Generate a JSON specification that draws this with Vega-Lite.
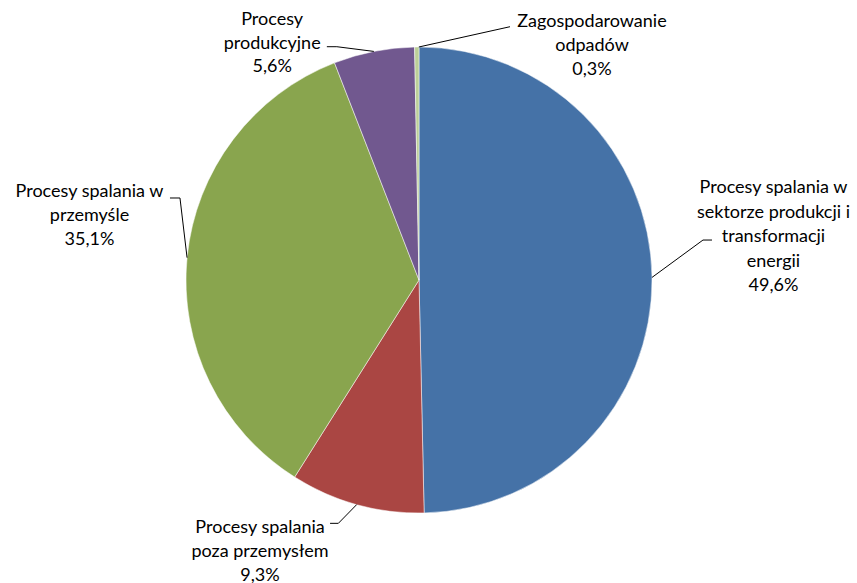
{
  "$schema": "https://vega.github.io/schema/vega-lite/v6.json",
  "width": 838,
  "height": 560,
  "autosize": "none",
  "padding": {"left": 0, "top": 0, "right": 19, "bottom": 23},
  "background": "#ffffff",
  "config": {"view": {"stroke": null}},
  "data": {
    "values": [
      {"kategoria": "Procesy spalania w sektorze produkcji i transformacji energii", "udzial": 49.6, "etykieta": ["Procesy spalania w", "sektorze produkcji i", "transformacji", "energii", "49,6%"]},
      {"kategoria": "Procesy spalania poza przemysłem", "udzial": 9.3, "etykieta": ["Procesy spalania", "poza przemysłem", "9,3%"]},
      {"kategoria": "Procesy spalania w przemyśle", "udzial": 35.1, "etykieta": ["Procesy spalania w", "przemyśle", "35,1%"]},
      {"kategoria": "Procesy produkcyjne", "udzial": 5.6, "etykieta": ["Procesy", "produkcyjne", "5,6%"]},
      {"kategoria": "Zagospodarowanie odpadów", "udzial": 0.3, "etykieta": ["Zagospodarowanie", "odpadów", "0,3%"]}
    ]
  },
  "transform": [
    {"window": [{"op": "row_number", "as": "nr"}, {"op": "sum", "field": "udzial", "as": "narast"}], "frame": [null, 0]},
    {"joinaggregate": [{"op": "sum", "field": "udzial", "as": "suma"}]},
    {"calculate": "2 * PI * (datum.narast - datum.udzial / 2) / datum.suma", "as": "kat"},
    {"calculate": "233 * sin(datum.kat)", "as": "ex"},
    {"calculate": "233 * cos(datum.kat)", "as": "ey"}
  ],
  "layer": [
    {
      "mark": {"type": "arc", "radius": 233, "stroke": "#ffffff", "strokeWidth": 0.5},
      "encoding": {
        "theta": {"field": "udzial", "type": "quantitative", "stack": true},
        "order": {"field": "nr", "type": "quantitative"},
        "color": {
          "field": "kategoria",
          "type": "nominal",
          "legend": null,
          "scale": {
            "domain": ["Procesy spalania w sektorze produkcji i transformacji energii", "Procesy spalania poza przemysłem", "Procesy spalania w przemyśle", "Procesy produkcyjne", "Zagospodarowanie odpadów"],
            "range": ["#4572A7", "#AA4643", "#89A54E", "#71588F", "#BCCF98"]
          }
        }
      }
    },
    {
      "transform": [{"filter": "datum.nr == 1"}],
      "layer": [
        {"mark": {"type": "rule", "color": "#000000", "strokeWidth": 1, "x2Offset": 51, "y2Offset": -37.4}},
        {"mark": {"type": "rule", "color": "#000000", "strokeWidth": 1, "xOffset": 51, "yOffset": -37.4, "x2Offset": 60, "y2Offset": -37.4}},
        {"mark": {"type": "text", "align": "center", "baseline": "alphabetic", "font": "Lato", "fontSize": 18, "lineHeight": 24.5, "color": "#000000", "dx": 121.5, "dy": -84.4}, "encoding": {"text": {"field": "etykieta"}}}
      ],
      "encoding": {
        "x": {"field": "ex", "type": "quantitative", "scale": {"domain": [-419, 419], "nice": false, "zero": false}, "axis": null},
        "y": {"field": "ey", "type": "quantitative", "scale": {"domain": [-280, 280], "nice": false, "zero": false}, "axis": null},
        "x2": {"field": "ex"},
        "y2": {"field": "ey"}
      }
    },
    {
      "transform": [{"filter": "datum.nr == 2"}],
      "layer": [
        {"mark": {"type": "rule", "color": "#000000", "strokeWidth": 1, "x2Offset": -18.4, "y2Offset": 18.8}},
        {"mark": {"type": "rule", "color": "#000000", "strokeWidth": 1, "xOffset": -18.4, "yOffset": 18.8, "x2Offset": -26.7, "y2Offset": 18.8}},
        {"mark": {"type": "text", "align": "center", "baseline": "alphabetic", "font": "Lato", "fontSize": 18, "lineHeight": 24, "color": "#000000", "dx": -96.7, "dy": 28.5}, "encoding": {"text": {"field": "etykieta"}}}
      ],
      "encoding": {
        "x": {"field": "ex", "type": "quantitative", "scale": {"domain": [-419, 419], "nice": false, "zero": false}, "axis": null},
        "y": {"field": "ey", "type": "quantitative", "scale": {"domain": [-280, 280], "nice": false, "zero": false}, "axis": null},
        "x2": {"field": "ex"},
        "y2": {"field": "ey"}
      }
    },
    {
      "transform": [{"filter": "datum.nr == 3"}],
      "layer": [
        {"mark": {"type": "rule", "color": "#000000", "strokeWidth": 1, "x2Offset": -7.1, "y2Offset": -59.7}},
        {"mark": {"type": "rule", "color": "#000000", "strokeWidth": 1, "xOffset": -7.1, "yOffset": -59.7, "x2Offset": -17.1, "y2Offset": -59.7}},
        {"mark": {"type": "text", "align": "center", "baseline": "alphabetic", "font": "Lato", "fontSize": 18, "lineHeight": 24, "color": "#000000", "dx": -97.6, "dy": -60.7}, "encoding": {"text": {"field": "etykieta"}}}
      ],
      "encoding": {
        "x": {"field": "ex", "type": "quantitative", "scale": {"domain": [-419, 419], "nice": false, "zero": false}, "axis": null},
        "y": {"field": "ey", "type": "quantitative", "scale": {"domain": [-280, 280], "nice": false, "zero": false}, "axis": null},
        "x2": {"field": "ex"},
        "y2": {"field": "ey"}
      }
    },
    {
      "transform": [{"filter": "datum.nr == 4"}],
      "layer": [
        {"mark": {"type": "rule", "color": "#000000", "strokeWidth": 1, "x2Offset": -37, "y2Offset": -4.7}},
        {"mark": {"type": "rule", "color": "#000000", "strokeWidth": 1, "xOffset": -37, "yOffset": -4.7, "x2Offset": -47, "y2Offset": -4.7}},
        {"mark": {"type": "text", "align": "center", "baseline": "alphabetic", "font": "Lato", "fontSize": 18, "lineHeight": 23.5, "color": "#000000", "dx": -101.7, "dy": -26.4}, "encoding": {"text": {"field": "etykieta"}}}
      ],
      "encoding": {
        "x": {"field": "ex", "type": "quantitative", "scale": {"domain": [-419, 419], "nice": false, "zero": false}, "axis": null},
        "y": {"field": "ey", "type": "quantitative", "scale": {"domain": [-280, 280], "nice": false, "zero": false}, "axis": null},
        "x2": {"field": "ex"},
        "y2": {"field": "ey"}
      }
    },
    {
      "transform": [{"filter": "datum.nr == 5"}],
      "layer": [
        {"mark": {"type": "rule", "color": "#000000", "strokeWidth": 1, "xOffset": 2, "yOffset": 0, "x2Offset": 93.2, "y2Offset": -20.3}},
        {"mark": {"type": "text", "align": "center", "baseline": "alphabetic", "font": "Lato", "fontSize": 18, "lineHeight": 24, "color": "#000000", "dx": 175.2, "dy": -20}, "encoding": {"text": {"field": "etykieta"}}}
      ],
      "encoding": {
        "x": {"field": "ex", "type": "quantitative", "scale": {"domain": [-419, 419], "nice": false, "zero": false}, "axis": null},
        "y": {"field": "ey", "type": "quantitative", "scale": {"domain": [-280, 280], "nice": false, "zero": false}, "axis": null},
        "x2": {"field": "ex"},
        "y2": {"field": "ey"}
      }
    }
  ]
}
